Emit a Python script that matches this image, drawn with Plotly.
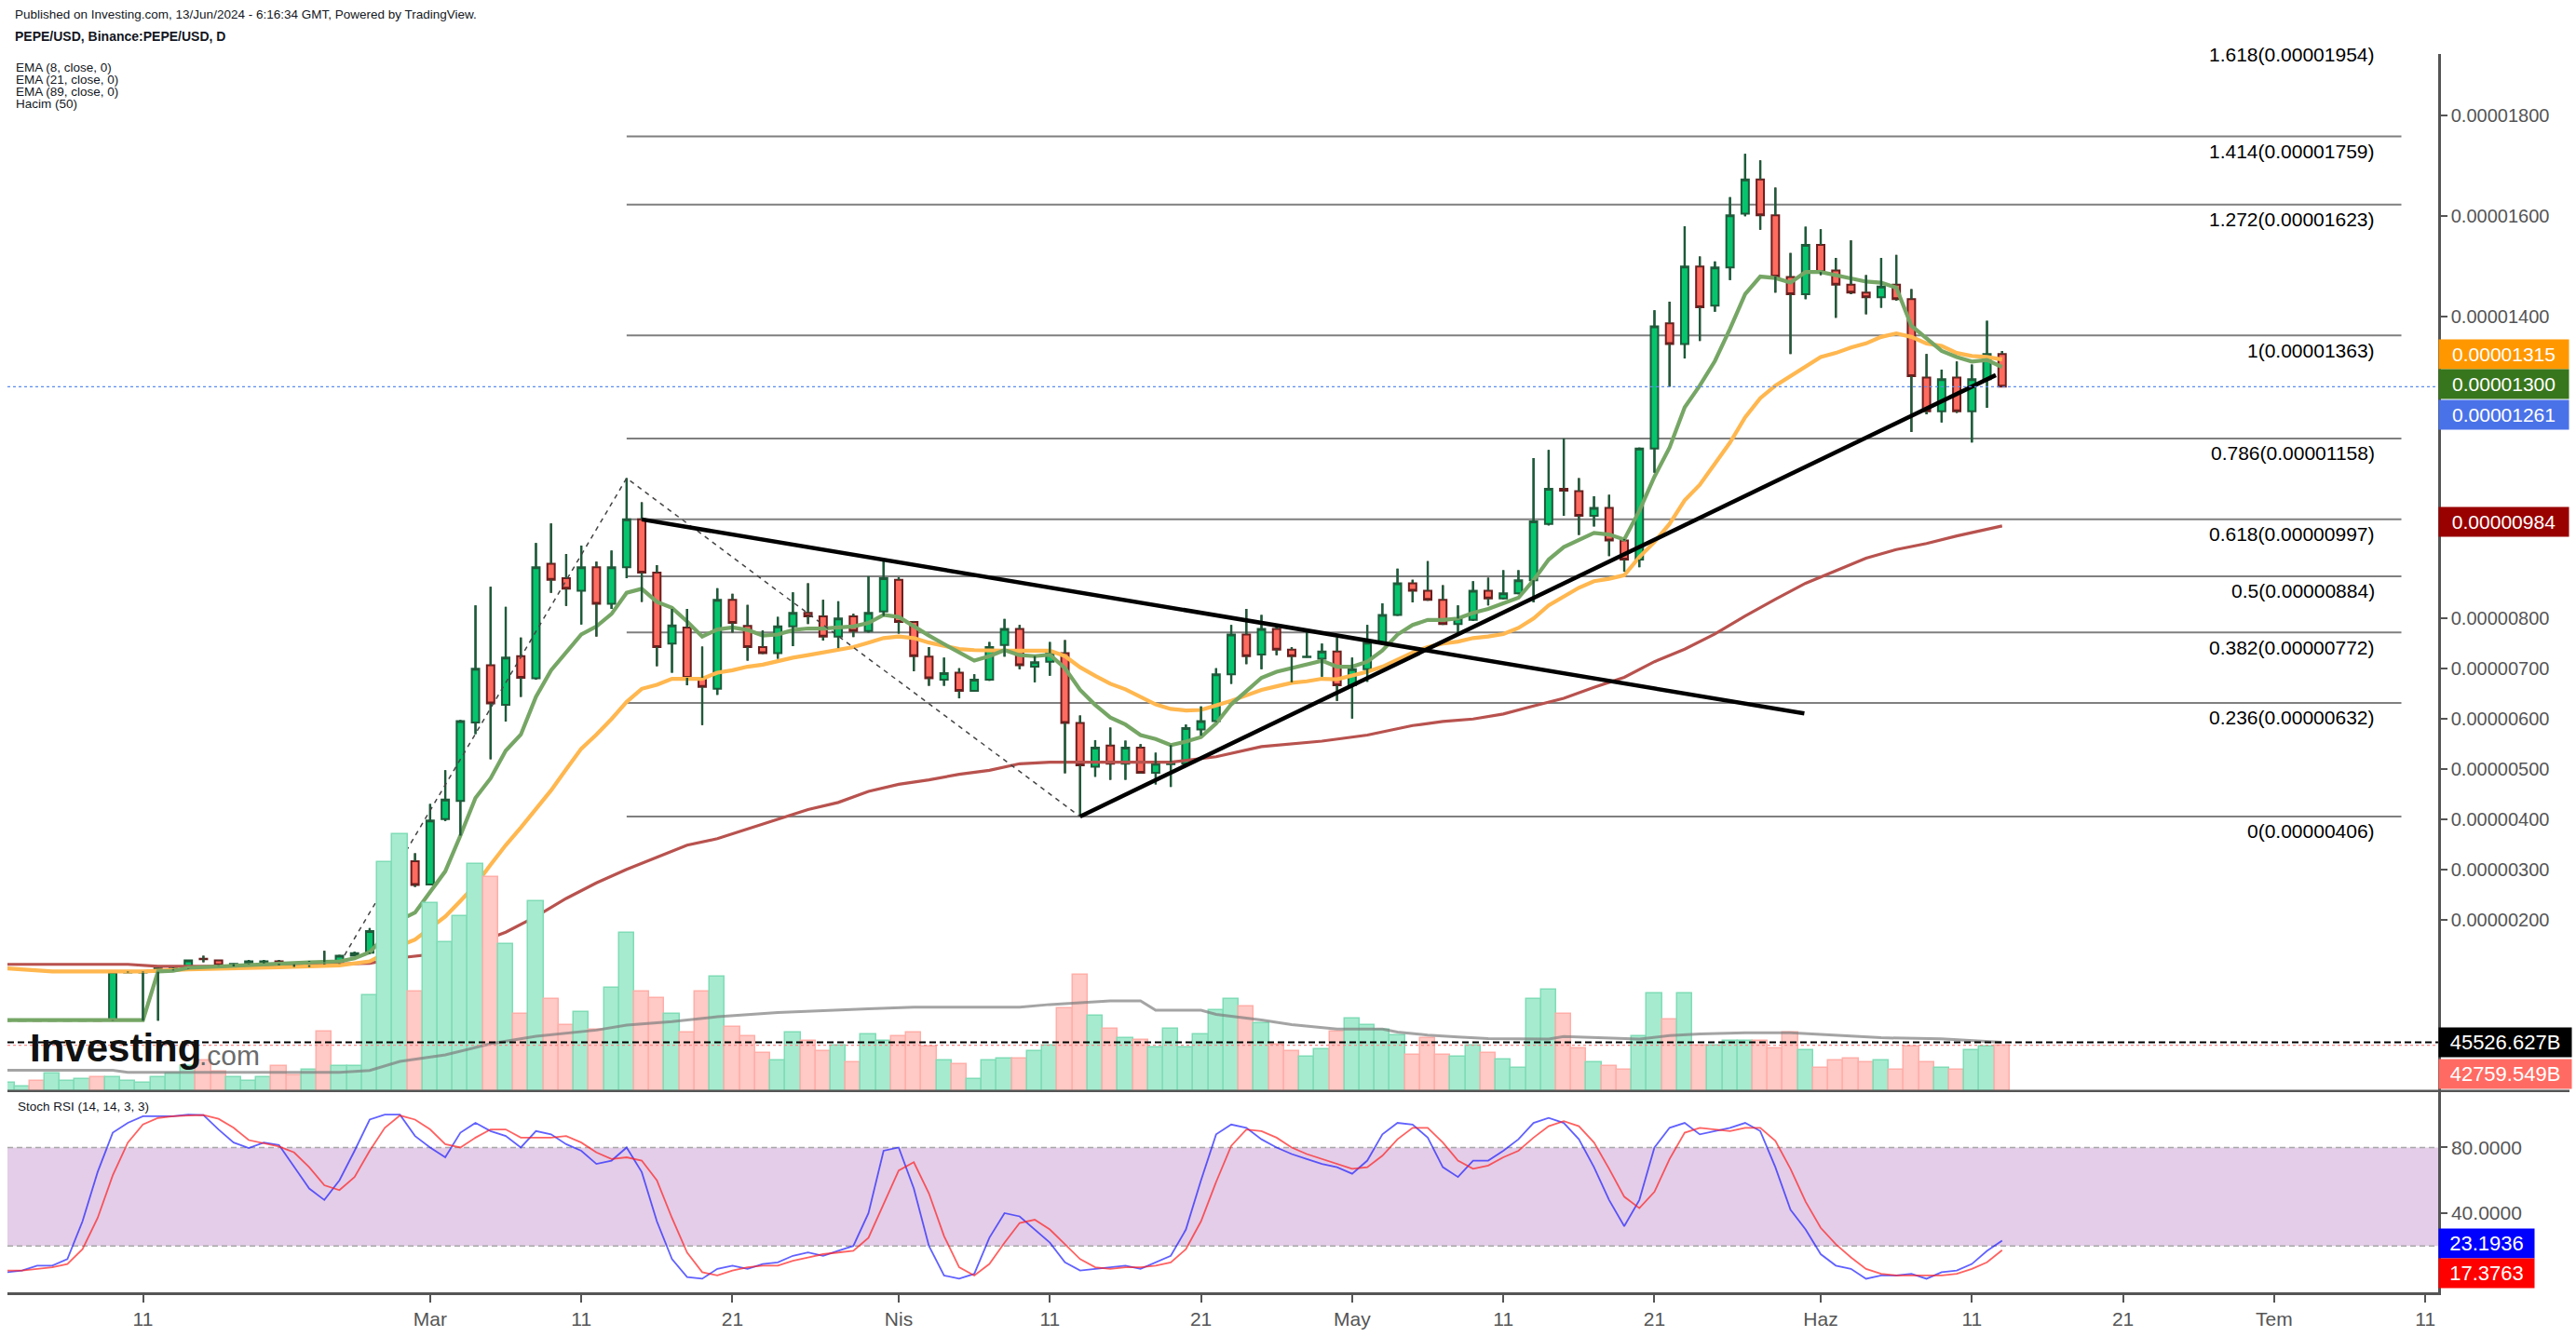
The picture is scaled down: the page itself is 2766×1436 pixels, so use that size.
import plotly.graph_objects as go
import pandas as pd

SCALE = 1e-8  # price arrays below are in units of 0.00000001 USD
dates = pd.date_range('2024-02-02', '2024-06-13', freq='D')

open_e8 = [0,0,1,0,0,0,1,1,96,96,97,102,104,123,120,112,113,117,118,114,110,116,114,129,135,177,265,317,
 271,401,437,593,707,628,725,681,909,880,855,902,829,902,997,891,750,782,682,660,837,785,743,731,784,811,804,764,804,775,814,
 877,793,724,678,692,656,678,747,779,704,714,731,592,505,547,511,543,493,510,511,579,596,689,768,728,779,738,723,720,734,
 667,699,752,807,870,855,837,789,797,855,840,850,876,988,1058,1053,1004,1020,955,917,1138,1387,1346,1500,1422,1498,1605,1673,1602,1479,1445,
 1543,1492,1464,1448,1439,1464,1435,1279,1212,1279,1212,1276,1326]
high_e8 = [1,1,1,1,1,1,1,97,98,98,105,106,121,129,121,114,121,121,121,114,119,139,131,137,184,297,364,333,
 431,498,598,826,863,823,762,950,989,928,945,913,935,1079,1031,906,819,819,744,860,849,827,776,803,852,870,837,834,809,884,919,
 882,795,743,722,701,689,753,799,787,725,753,757,607,558,583,557,550,533,548,589,625,701,787,819,807,789,743,775,750,762,
 722,787,830,899,877,914,866,826,874,881,896,896,1119,1135,1158,1079,1043,1046,958,1140,1413,1430,1580,1520,1510,1638,1724,1711,1657,1527,1579,
 1574,1517,1552,1483,1517,1523,1455,1326,1295,1311,1305,1392,1332]
low_e8 = [0,0,0,0,0,0,0,0,95,0,0,100,103,116,109,108,112,114,110,107,107,112,113,128,133,175,256,266,
 270,397,368,570,520,595,644,678,851,825,788,764,819,880,833,705,692,667,588,648,772,716,729,720,745,789,756,741,763,772,805,
 770,695,666,666,641,654,676,724,699,673,686,492,406,485,479,479,491,470,465,508,567,594,670,709,699,727,673,722,684,636,
 601,674,750,805,832,835,787,767,795,826,838,848,832,985,1004,966,983,924,893,902,1090,1261,1317,1352,1410,1473,1600,1573,1448,1326,1435,
 1483,1398,1445,1405,1418,1432,1171,1206,1190,1209,1150,1219,1261]
close_e8 = [1,1,0,1,1,1,0,97,97,97,104,104,120,122,110,113,118,118,113,112,117,114,129,134,178,265,317,270,
 398,440,596,700,631,722,682,902,877,859,902,829,902,997,891,743,786,682,664,837,791,743,731,784,811,804,764,800,775,811,880,
 793,725,681,691,656,678,743,779,707,713,731,592,508,543,511,543,493,511,514,582,596,689,768,725,779,738,725,724,734,667,
 699,752,807,870,855,837,789,800,855,840,850,876,993,1058,1054,1004,1020,955,917,1138,1381,1346,1500,1419,1498,1602,1673,1602,1480,1445,1543,
 1489,1464,1448,1439,1460,1435,1282,1212,1276,1212,1276,1326,1261]

# volume, in billions
volume_b = [7800,4350,9600,16300,9300,11100,12800,12800,9300,7800,12800,16300,23200,28500,18000,12800,9300,12800,23200,14500,19800,56000,23200,23200,89400,214400,240900,92800,
 176400,139800,163900,212500,200800,137900,71800,177500,86200,61700,73700,57000,96700,148300,92800,87000,71800,55100,92800,106800,59800,51200,35600,28700,54500,46600,37300,42500,26600,52800,46600,
 51100,54500,41400,28700,24900,11100,28700,30000,30000,37300,42500,77600,108600,70000,58000,49400,47300,40700,58000,40700,52800,75800,86200,79300,63100,43200,37300,32100,39000,55200,
 68200,61400,56900,51700,33900,49400,33900,32400,42100,35300,29000,21600,86100,94900,71900,39700,26500,23100,20100,50900,91000,67000,91000,42700,42700,46900,46900,46900,40000,54400,38300,
 21800,28600,30400,26900,28600,20000,41800,26900,21800,20000,38300,41800,42759.549]

volma_dates = ['2024-02-02','2024-02-09','2024-02-10','2024-02-24','2024-02-26','2024-02-28','2024-03-02','2024-03-05','2024-03-08','2024-03-12','2024-03-14','2024-03-17','2024-03-20','2024-03-22','2024-03-24','2024-03-30','2024-04-02','2024-04-09','2024-04-11','2024-04-13','2024-04-15','2024-04-17','2024-04-18','2024-04-21','2024-04-22','2024-04-25','2024-04-27','2024-04-30','2024-05-03','2024-05-04','2024-05-06','2024-05-08','2024-05-10','2024-05-14','2024-05-15','2024-05-20','2024-05-22','2024-05-24','2024-05-27','2024-05-30','2024-06-03','2024-06-05','2024-06-09','2024-06-13']
volma_b = [19400,19400,17400,17400,19100,27600,33700,44200,51200,57000,61700,64900,69500,71800,73500,76900,78600,78600,81000,82700,84400,84400,75700,75700,71700,66500,62100,58000,58000,55200,52400,50500,49000,48500,50900,48500,51900,53400,54400,54400,51500,49800,48700,45526.627]

ema8_early_dates = ['2024-02-02','2024-02-11','2024-02-12','2024-02-13','2024-02-14','2024-02-16','2024-02-20','2024-02-22','2024-02-24','2024-02-25','2024-02-26','2024-02-27']
ema8_early = [1,1,98,99,105,108,114,116,118,124,136,168]
ema8_daily = [200,215,
 255,297,368,443,482,537,569,644,697,732,768,784,809,851,859,833,821,794,764,778,782,777,766,768,777,780,780,782,784,791,807,
 803,784,766,749,732,716,725,737,727,725,728,701,658,628,603,589,568,560,548,555,564,591,629,655,682,694,701,709,716,704,
 704,714,736,768,787,797,797,800,811,819,829,841,876,917,942,955,970,967,957,1014,1082,1140,1220,1263,1312,1376,1445,1480,1477,1468,1489,
 1489,1483,1477,1470,1468,1458,1382,1357,1332,1320,1311,1314,1300]
ema21_early_dates = ['2024-02-02','2024-02-05','2024-02-11','2024-02-14','2024-02-20','2024-02-24','2024-02-26','2024-02-27']
ema21_early = [104,98,98,102,106,110,118,133]
ema21_daily = [149,161,
 185,207,238,270,310,349,384,421,458,500,541,569,600,634,660,668,680,680,680,692,697,704,708,715,722,727,732,738,743,752,761,
 764,761,752,745,739,737,736,736,736,736,736,725,703,686,670,659,645,629,620,617,618,626,636,647,658,665,672,675,680,679,
 686,694,704,718,732,743,750,754,761,764,769,781,800,826,844,861,874,879,886,922,952,988,1035,1066,1108,1150,1200,1238,1263,1282,1301,
 1320,1328,1339,1347,1360,1367,1360,1347,1342,1328,1322,1320,1315]
ema89_dates = ['2024-02-02','2024-02-10','2024-02-12','2024-02-17','2024-02-21','2024-02-26','2024-02-28','2024-03-02','2024-03-04','2024-03-06','2024-03-08','2024-03-10','2024-03-12','2024-03-14','2024-03-16','2024-03-18','2024-03-20','2024-03-22','2024-03-24','2024-03-26','2024-03-28','2024-03-30','2024-04-01','2024-04-03','2024-04-05','2024-04-07','2024-04-09','2024-04-11','2024-04-13','2024-04-19','2024-04-22','2024-04-25','2024-04-29','2024-05-02','2024-05-05','2024-05-07','2024-05-09','2024-05-11','2024-05-13','2024-05-15','2024-05-17','2024-05-19','2024-05-21','2024-05-23','2024-05-25','2024-05-27','2024-05-29','2024-05-31','2024-06-02','2024-06-04','2024-06-06','2024-06-08','2024-06-10','2024-06-12','2024-06-13']
ema89 = [112,112,108,108,111,114,125,135,153,176,207,243,274,301,325,349,362,381,400,420,434,456,470,479,490,498,511,514,514,514,525,545,556,568,587,595,600,610,626,641,663,683,714,739,769,805,838,870,895,920,937,949,964,978,984]

stoch_k = [4,5,8,8,12,35,65,89,95, 99,99,99,100,99.8,91,83,79.6,83,81.5, 68,55,48,60,78,97,100,100,87,80,
 74,89,95,90,87,80,90,88,82,78, 70,72,80,65,35,12,1,0,6,8, 6,9,10,14,16,14,17,20,40,78,
 80,55,20,2,0,3,25,40,38,30, 22,10,5,6,7,8,6,10,14,30, 60,88,94,92,85,80,76,73,70,68,
 64,72,88,95,94,86,68,62,72,72, 78,85,95,98,95,85,68,48,32,48, 80,92,95,88,90,92,95,90,68,42,
 30,15,8,6,0,2,2,3,0,4, 5,9,17,23.1936]
stoch_d = [5,5,6,7,9,18,37,63,83, 94,98,99,99.5,99.8,97.5,92,84.5,82.5,80.6, 77,68,57,54,62,78,92,99.5,97,91,
 82,80,86,91,91,86,86,86,87,83, 77,73,74,72,60,37,16,4,2,5, 7,8,8,11,13,15,16,17,25,46,
 66,71,52,26,7,2,9,22,34,36, 30,21,12,7,6,7,7,8,10,18, 35,59,81,91,90,86,80,76,73,70,
 67,68,75,85,92,92,83,72,67,69, 74,78,86,93,96,93,83,67,50,43, 53,73,89,92,91,90,92,92,84,67,
 47,31,21,13,6,3,2,2,2,2, 3,6,10,17.3763]

fib_ratios = ['0', '0.236', '0.382', '0.5', '0.618', '0.786', '1', '1.272', '1.414', '1.618']
fib_e8 = [406, 632, 772, 884, 997, 1158, 1363, 1623, 1759, 1954]
fib_span = ['2024-03-14', '2024-07-09 10:00']

desc_line_dates = ['2024-03-15', '2024-05-30 22:00']
desc_line_e8 = [997, 611]
asc_line_dates = ['2024-04-13', '2024-06-12 14:00']
asc_line_e8 = [406, 1284]
zigzag_dates = ['2024-02-24 08:00', '2024-03-14', '2024-04-13']
zigzag_e8 = [130, 1079, 406]

last_price_e8 = 1261
ema8_last, ema21_last, ema89_last = 1300, 1315, 984
volma_last, vol_last = 45526.627, 42759.549

tick_dates = ['2024-02-11','2024-03-01','2024-03-11','2024-03-21','2024-04-01','2024-04-11','2024-04-21','2024-05-01','2024-05-11','2024-05-21','2024-06-01','2024-06-11','2024-06-21','2024-07-01','2024-07-11']
tick_labels = ['11','Mar','11','21','Nis','11','21','May','11','21','Haz','11','21','Tem','11']
# 0.00001000 and 0.00001200 sit under the value boxes in the reference
price_ticks_e8 = [200,300,400,500,600,700,800,1400,1600,1800]
rsi_ticks = [40, 80]

# ---------------- layout geometry ----------------
W, H = 2766, 1436
PL, PR, PT, PB = 8, 2618, 58, 1392
SEP = 1175
PD0 = (PB - SEP) / (PB - PT)
X_RANGE = ['2024-02-02 00:50', '2024-07-11 20:24']
P_RANGE = [-139.7 * SCALE, 1922.7 * SCALE]
V_RANGE = [0, 972350]
R_RANGE = [-8.26, 114.5]

def pxx(px):
    return (px - PL) / (PR - PL)

def pxy(py):
    return (PB - py) / (PB - PT)

FONT = 'Liberation Sans, Arial, sans-serif'
UP_FILL, UP_LINE = '#05c46d', '#1e5a3a'
DN_FILL, DN_LINE = '#ff6b5f', '#6b1d1d'

sc = lambda arr: [v * SCALE for v in arr]
up = [c >= o for o, c in zip(open_e8, close_e8)]

fig = go.Figure()

# volume
fig.add_trace(go.Bar(
    x=dates, y=volume_b, yaxis='y2',
    marker=dict(color=['#a6ebcf' if u else '#ffc9c5' for u in up],
                line=dict(color=['#7fdcb6' if u else '#ffaea8' for u in up], width=1.5)),
    hoverinfo='skip'))
fig.add_trace(go.Scatter(x=volma_dates, y=volma_b, yaxis='y2', mode='lines',
                         line=dict(color='rgba(125,125,125,0.7)', width=3), hoverinfo='skip'))

# fib levels
for r, v in zip(fib_ratios, fib_e8):
    fig.add_shape(type='line', xref='x', yref='y', x0=fib_span[0], x1=fib_span[1],
                  y0=v * SCALE, y1=v * SCALE, line=dict(color='#7f7f7f', width=2), layer='below')

# EMA lines
fig.add_trace(go.Scatter(x=ema89_dates, y=sc(ema89), mode='lines',
                         line=dict(color='#b8524e', width=3.2), hoverinfo='skip'))
ema_dates_daily = pd.date_range('2024-02-28', '2024-06-13', freq='D')
fig.add_trace(go.Scatter(x=list(pd.to_datetime(ema21_early_dates)) + list(ema_dates_daily),
                         y=sc(ema21_early + ema21_daily), mode='lines',
                         line=dict(color='#ffb74f', width=4.2), hoverinfo='skip'))
fig.add_trace(go.Scatter(x=list(pd.to_datetime(ema8_early_dates)) + list(ema_dates_daily),
                         y=sc(ema8_early + ema8_daily), mode='lines',
                         line=dict(color='#76a665', width=4.2), hoverinfo='skip'))

# candles
fig.add_trace(go.Candlestick(
    x=dates, open=sc(open_e8), high=sc(high_e8), low=sc(low_e8), close=sc(close_e8),
    increasing=dict(fillcolor=UP_FILL, line=dict(color=UP_LINE, width=2)),
    decreasing=dict(fillcolor=DN_FILL, line=dict(color=DN_LINE, width=2)),
    whiskerwidth=0, hoverinfo='skip'))
# wicks drawn dark green for all candles
wx, wy = [], []
for d, o, h, l, c in zip(dates, open_e8, high_e8, low_e8, close_e8):
    top, bot = max(o, c), min(o, c)
    if h > top:
        wx += [d, d, None]; wy += [top * SCALE, h * SCALE, None]
    if l < bot:
        wx += [d, d, None]; wy += [l * SCALE, bot * SCALE, None]
fig.add_trace(go.Scatter(x=wx, y=wy, mode='lines', line=dict(color=UP_LINE, width=2.4),
                         hoverinfo='skip'))

# drawings
fig.add_trace(go.Scatter(x=zigzag_dates, y=sc(zigzag_e8), mode='lines',
                         line=dict(color='#444444', width=1.5, dash='5px,5px'), hoverinfo='skip'))
fig.add_trace(go.Scatter(x=desc_line_dates, y=sc(desc_line_e8), mode='lines',
                         line=dict(color='black', width=4.5), hoverinfo='skip'))
fig.add_trace(go.Scatter(x=asc_line_dates, y=sc(asc_line_e8), mode='lines',
                         line=dict(color='black', width=4.5), hoverinfo='skip'))

# stoch RSI
fig.add_shape(type='rect', xref='paper', yref='y3', x0=0, x1=1, y0=20, y1=80,
              fillcolor='#e3cde8', line=dict(width=0), layer='below')
for lv in (20, 80):
    fig.add_shape(type='line', xref='paper', yref='y3', x0=0, x1=1, y0=lv, y1=lv,
                  line=dict(color='#a8a8a8', width=1.5, dash='6px,4px'), layer='below')
fig.add_trace(go.Scatter(x=dates, y=stoch_k, yaxis='y3', mode='lines',
                         line=dict(color='rgba(30,30,255,0.7)', width=1.8), hoverinfo='skip'))
fig.add_trace(go.Scatter(x=dates, y=stoch_d, yaxis='y3', mode='lines',
                         line=dict(color='rgba(255,30,30,0.7)', width=1.8), hoverinfo='skip'))

# horizontal reference lines
fig.add_shape(type='line', xref='paper', yref='y', x0=0, x1=1,
              y0=last_price_e8 * SCALE, y1=last_price_e8 * SCALE,
              line=dict(color='#5b8def', width=1.2, dash='dot'))
fig.add_shape(type='line', xref='paper', yref='y2', x0=0, x1=1, y0=vol_last, y1=vol_last,
              line=dict(color='#ff8a8a', width=1.2, dash='dot'))
fig.add_shape(type='line', xref='paper', yref='y2', x0=0, x1=1, y0=volma_last, y1=volma_last,
              line=dict(color='black', width=2.2, dash='7px,4px'))
# panel separator
fig.add_shape(type='line', xref='paper', yref='paper', x0=0, x1=pxx(2759), y0=PD0, y1=PD0,
              line=dict(color='#555555', width=2.5))

ann = []
# fib labels
for r, v in zip(fib_ratios, fib_e8):
    txt = f'{r}({v * SCALE:.8f})'
    if v * SCALE < P_RANGE[1]:
        ann.append(dict(x=pxx(2552), xref='paper', xanchor='right', y=v * SCALE, yref='y',
                        yanchor='middle', yshift=-16, text=txt, showarrow=False,
                        font=dict(size=21, color='black', family=FONT)))
    else:
        frac = (v * SCALE - P_RANGE[0]) / (P_RANGE[1] - P_RANGE[0])
        ann.append(dict(x=pxx(2552), xref='paper', xanchor='right', y=PD0 + frac * (1 - PD0), yref='paper',
                        yanchor='middle', yshift=-17, text=txt, showarrow=False,
                        font=dict(size=21, color='black', family=FONT)))

def axis_box(val, yref, color, shift, width, size=21, fontcolor='white', text=None):
    return dict(x=1, xref='paper', xanchor='left', y=val, yref=yref, yanchor='middle',
                yshift=shift, text=text, showarrow=False, bgcolor=color, width=width,
                height=27, borderpad=2, align='center',
                font=dict(size=size, color=fontcolor, family=FONT))

ann.append(axis_box(ema21_last * SCALE, 'y', '#ff9800', 6, 135, text=f'{ema21_last*SCALE:.8f}'))
ann.append(axis_box(ema8_last * SCALE, 'y', '#38761d', -18, 135, text=f'{ema8_last*SCALE:.8f}'))
ann.append(axis_box(last_price_e8 * SCALE, 'y', '#4a72e8', -30, 135, text=f'{last_price_e8*SCALE:.8f}'))
ann.append(axis_box(ema89_last * SCALE, 'y', '#990000', 4, 135, text=f'{ema89_last*SCALE:.8f}'))
ann.append(axis_box(volma_last, 'y2', 'black', 0, 138, size=22, text=f'{volma_last:.3f}B'))
ann.append(axis_box(vol_last, 'y2', '#ff6b63', -31, 138, size=22, text=f'{vol_last:.3f}B'))
ann.append(axis_box(stoch_k[-1], 'y3', '#0000ff', -3, 98, size=22, text=f'{stoch_k[-1]:.4f}'))
ann.append(axis_box(stoch_d[-1], 'y3', '#ff0000', -25, 98, size=22, text=f'{stoch_d[-1]:.4f}'))

# header texts
def txt(s, x, y, size, color='#131722', anchor='left', bold=False):
    if bold:
        s = f'<b>{s}</b>'
    return dict(x=pxx(x), y=pxy(y), xref='paper', yref='paper', xanchor=anchor, yanchor='middle',
                text=s, showarrow=False, font=dict(size=size, color=color, family=FONT))

ann.append(txt('Published on Investing.com, 13/Jun/2024 - 6:16:34 GMT, Powered by TradingView.', 14, 15, 13.5))
ann.append(txt('PEPE/USD, Binance:PEPE/USD, D', 14, 39, 14, bold=True))
for i, s in enumerate(['EMA (8, close, 0)', 'EMA (21, close, 0)', 'EMA (89, close, 0)', 'Hacim (50)']):
    ann.append(txt(s, 15, 73 + 13 * i, 13.5))
ann.append(txt('Stoch RSI (14, 14, 3, 3)', 17, 1192, 13.5))
ann.append(txt('Investing', 30, 1129, 42, color='#111111', bold=True))
ann.append(txt('.com', 212, 1137, 30, color='#6b6b6b'))

fig.update_layout(
    width=W, height=H,
    margin=dict(l=PL, r=W - PR, t=PT, b=H - PB),
    paper_bgcolor='white', plot_bgcolor='white',
    showlegend=False, hovermode=False,
    bargap=0, boxgap=0.3, boxgroupgap=0.3,
    font=dict(family=FONT, color='#131722'),
    annotations=ann,
    xaxis=dict(type='date', range=X_RANGE, domain=[0, 1], anchor='y3',
               showgrid=False, zeroline=False, showline=True, linecolor='#555555', linewidth=2.5,
               ticks='outside', ticklen=8, tickwidth=1.5, tickcolor='#555555',
               tickvals=tick_dates, ticktext=tick_labels,
               tickfont=dict(size=21, color='#555555', family=FONT),
               rangeslider=dict(visible=False)),
    yaxis=dict(domain=[PD0, 1], range=P_RANGE, side='right', anchor='x',
               showgrid=False, zeroline=False, showline=True, linecolor='#555555', linewidth=2.5,
               ticks='outside', ticklen=7, tickwidth=1.5, tickcolor='#555555',
               tickvals=[v * SCALE for v in price_ticks_e8],
               ticktext=[f'{v * SCALE:.8f}' for v in price_ticks_e8],
               tickfont=dict(size=20, color='#555555', family=FONT)),
    yaxis2=dict(range=V_RANGE, overlaying='y', side='left', visible=False, showgrid=False),
    yaxis3=dict(domain=[0, PD0], range=R_RANGE, side='right', anchor='x',
                showgrid=False, zeroline=False, showline=True, linecolor='#555555', linewidth=2.5,
                ticks='outside', ticklen=7, tickwidth=1.5, tickcolor='#555555',
                tickvals=rsi_ticks, ticktext=[f'{t:.4f}' for t in rsi_ticks],
                tickfont=dict(size=21, color='#555555', family=FONT)),
)

fig.write_html('out.html')
